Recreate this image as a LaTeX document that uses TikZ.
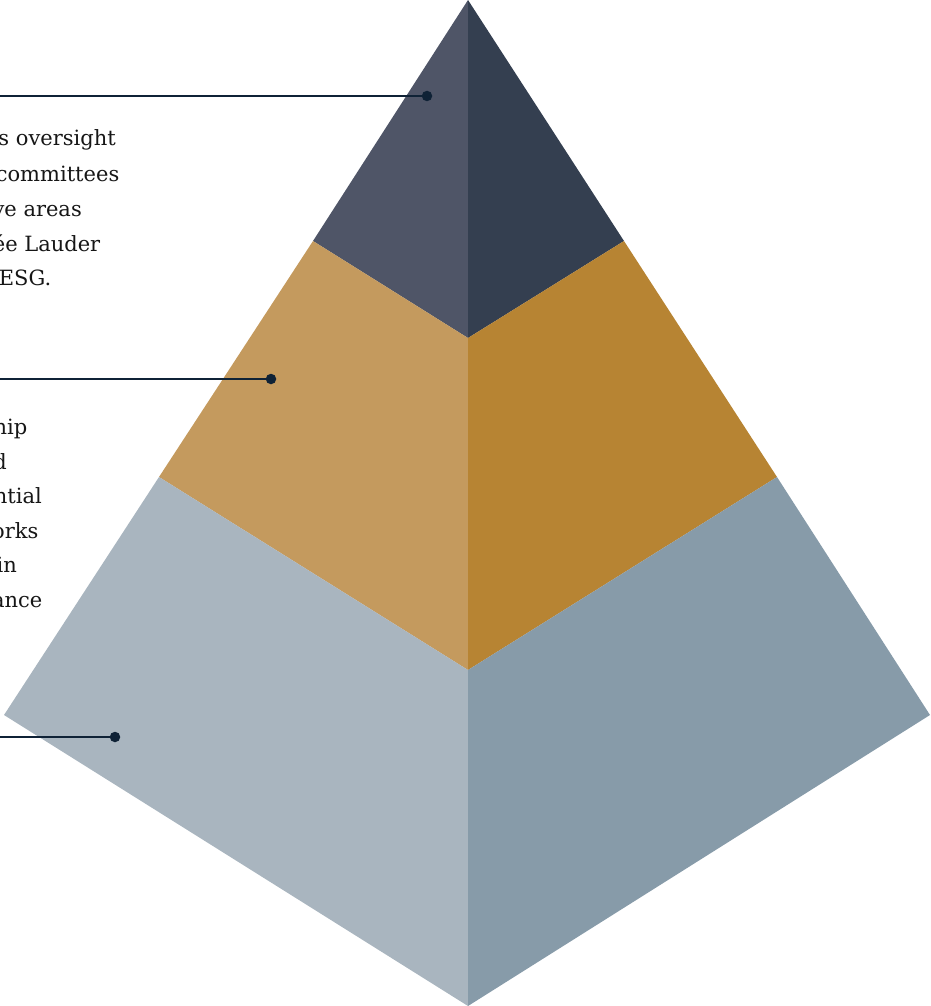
\documentclass[tikz,border=0pt]{standalone}
\usepackage{fontspec}
\setmainfont{DejaVu Serif}
\usetikzlibrary{positioning}
\definecolor{capleft}{HTML}{4F5567}
\definecolor{capright}{HTML}{343F50}
\definecolor{midleft}{HTML}{C49A5E}
\definecolor{midright}{HTML}{B78433}
\definecolor{baseleft}{HTML}{A9B5BF}
\definecolor{baseright}{HTML}{879BA9}
\definecolor{leader}{HTML}{0F2236}
\definecolor{bodytext}{HTML}{161616}
\tikzset{
  dot/.style     = {circle, fill=leader, inner sep=0pt, minimum size=10.5pt},
  leaderline/.style = {draw=leader, line width=1.3pt},
  txt/.style     = {anchor=base east, inner sep=0pt, text=bodytext,
                    font=\fontsize{21}{24}\selectfont},
}

\begin{document}
\begin{tikzpicture}[x=1pt, y=-1pt]
  \useasboundingbox (0,0) rectangle (930,1006);
  % pyramid corners
  \coordinate (apex) at (468,0);
  \coordinate (capl) at (313,241);  \coordinate (capc) at (468,338);  \coordinate (capr) at (624,241);
  \coordinate (midl) at (159,477);  \coordinate (midc) at (468,670);  \coordinate (midr) at (777,477);
  \coordinate (basl) at (4,715);    \coordinate (basc) at (468,1006); \coordinate (basr) at (930,715);
  % faces
  \fill[capleft]   (apex) -- (capl) -- (capc) -- cycle;
  \fill[capright]  (apex) -- (capc) -- (capr) -- cycle;
  \fill[midleft]   (capl) -- (midl) -- (midc) -- (capc) -- cycle;
  \fill[midright]  (capc) -- (midc) -- (midr) -- (capr) -- cycle;
  \fill[baseleft]  (midl) -- (basl) -- (basc) -- (midc) -- cycle;
  \fill[baseright] (midc) -- (basc) -- (basr) -- (midr) -- cycle;
  % leaders
  \node[dot] (dcap) at (427,96) {};
  \node[dot] (dmid) at (271,379) {};
  \node[dot] (dbas) at (115,737) {};
  \coordinate (ecap) at (0,96);
  \coordinate (emid) at (0,379);
  \coordinate (ebas) at (0,737);
  \foreach \a/\b in {ecap/dcap, emid/dmid, ebas/dbas}{\draw[leaderline] (\a) -- (\b);}
  % texts
  \foreach \x/\y/\t [count=\i] in {116/146/s oversight, 119.5/181/committees, 82/216/ve areas,
      100.5/251/ée Lauder, 51.5/285/ESG.}
    {\node[txt] (cap\i) at (\x,\y) {\t};}
  \foreach \x/\y/\t [count=\i] in {27.5/434/hip, 7/469/d, 42/503.5/ntial, 38.5/538/orks,
      17/572.5/in, 42.5/607/ance}
    {\node[txt] (mid\i) at (\x,\y) {\t};}
\end{tikzpicture}
\end{document}
